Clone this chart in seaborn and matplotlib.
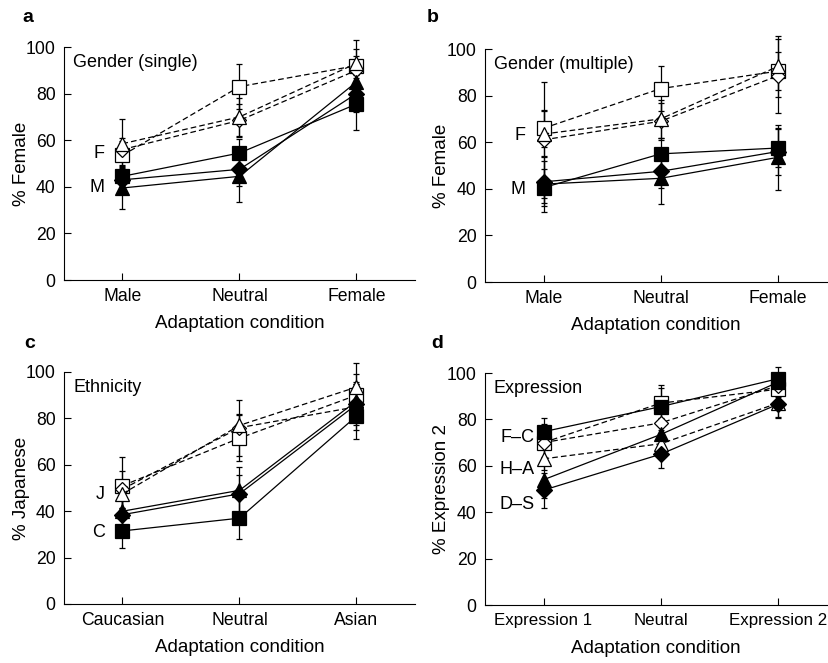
import numpy as np
import pandas as pd
import matplotlib
matplotlib.use("Agg")
import matplotlib.pyplot as plt
import seaborn as sns

# ---------------- data ----------------
conds_a = ["Male", "Neutral", "Female"]
conds_b = ["Male", "Neutral", "Female"]
conds_c = ["Caucasian", "Neutral", "Asian"]
conds_d = ["Expression 1", "Neutral", "Expression 2"]

# panel a: Gender (single)
a_fsq = [44.5, 54.5, 75.5]; a_fsq_e = [5, 6, 11]
a_fdi = [43.0, 47.5, 80.0]; a_fdi_e = [6, 7, 8]
a_ftr = [39.5, 44.5, 85.0]; a_ftr_e = [9, 11, 8]
a_osq = [53.5, 83.0, 92.0]; a_osq_e = [6, 9.5, 7]
a_odi = [56.0, 68.5, 90.0]; a_odi_e = [5, 7, 6]
a_otr = [58.5, 70.0, 93.0]; a_otr_e = [10.5, 8, 10]

# panel b: Gender (multiple)
b_fsq = [40.5, 55.0, 57.5]; b_fsq_e = [8, 7, 8]
b_fdi = [43.0, 47.5, 56.0]; b_fdi_e = [9, 7, 10]
b_ftr = [42.0, 44.5, 53.5]; b_ftr_e = [12, 11, 14]
b_osq = [66.0, 83.0, 90.5]; b_osq_e = [8, 9.5, 8]
b_odi = [61.0, 69.0, 88.5]; b_odi_e = [25, 8, 16]
b_otr = [63.5, 70.0, 92.5]; b_otr_e = [10, 8, 13]

# panel c: Ethnicity
c_fsq = [31.5, 37.0, 81.0]; c_fsq_e = [7.5, 9, 10]
c_fdi = [38.5, 47.5, 86.0]; c_fdi_e = [7, 8, 9]
c_ftr = [40.0, 49.0, 87.5]; c_ftr_e = [6, 10, 8]
c_osq = [51.0, 71.5, 90.0]; c_osq_e = [12.5, 10, 9]
c_odi = [49.5, 76.0, 85.0]; c_odi_e = [8, 12, 10]
c_otr = [47.5, 77.0, 93.5]; c_otr_e = [6, 5, 10.5]

# panel d: Expression
d_fsq = [74.7, 85.5, 97.5]; d_fsq_e = [6, 8, 5]
d_fdi = [49.5, 65.0, 86.5]; d_fdi_e = [7.5, 6, 6]
d_ftr = [54.0, 73.5, 96.0]; d_ftr_e = [8, 7, 4]
d_osq = [70.0, 87.0, 93.0]; d_osq_e = [8, 8, 6]
d_odi = [70.0, 78.5, 94.5]; d_odi_e = [6, 7, 5]
d_otr = [63.0, 69.5, 87.0]; d_otr_e = [5, 6, 6]

series_names = ["fsq", "fdi", "ftr", "osq", "odi", "otr"]
panel_data = {
    "a": [a_fsq, a_fdi, a_ftr, a_osq, a_odi, a_otr],
    "b": [b_fsq, b_fdi, b_ftr, b_osq, b_odi, b_otr],
    "c": [c_fsq, c_fdi, c_ftr, c_osq, c_odi, c_otr],
    "d": [d_fsq, d_fdi, d_ftr, d_osq, d_odi, d_otr],
}
panel_err = {
    "a": [a_fsq_e, a_fdi_e, a_ftr_e, a_osq_e, a_odi_e, a_otr_e],
    "b": [b_fsq_e, b_fdi_e, b_ftr_e, b_osq_e, b_odi_e, b_otr_e],
    "c": [c_fsq_e, c_fdi_e, c_ftr_e, c_osq_e, c_odi_e, c_otr_e],
    "d": [d_fsq_e, d_fdi_e, d_ftr_e, d_osq_e, d_odi_e, d_otr_e],
}
panel_conds = {"a": conds_a, "b": conds_b, "c": conds_c, "d": conds_d}
panel_titles = {"a": "Gender (single)", "b": "Gender (multiple)",
                "c": "Ethnicity", "d": "Expression"}
panel_ylabels = {"a": "% Female", "b": "% Female",
                 "c": "% Japanese", "d": "% Expression 2"}
# in-panel labels: (text, y value)
panel_marks = {
    "a": [("F", 54.5), ("M", 39.5)],
    "b": [("F", 63.0), ("M", 39.5)],
    "c": [("J", 47.0), ("C", 31.0)],
    "d": [("F\u2013C", 72.0), ("H\u2013A", 58.6), ("D\u2013S", 43.5)],
}
yticks = [0, 20, 40, 60, 80, 100]

rows = []
for p in "abcd":
    for s, vals, errs in zip(series_names, panel_data[p], panel_err[p]):
        for i, (v, e) in enumerate(zip(vals, errs)):
            rows.append(dict(panel=p, series=s, x=i, value=v, err=e))
df = pd.DataFrame(rows)

# ---------------- style ----------------
sns.set_theme(style="ticks")
plt.rcParams["font.family"] = ["Liberation Sans", "DejaVu Sans"]
plt.rcParams["axes.linewidth"] = 0.8

W, H = 829, 663
fig = plt.figure(figsize=(W / 100, H / 100), dpi=100)

# axes boxes in pixels: left, right, top(100), bottom(0)
boxes = {
    "a": (64, 415, 47, 280),
    "b": (485, 827, 49, 282),
    "c": (64, 415, 372, 604),
    "d": (485, 827, 373, 605),
}
xlims = {"a": (-0.5, 2.5), "b": (-0.5, 2.42), "c": (-0.5, 2.5), "d": (-0.5, 2.42)}
letter_pos = {"a": (28, 18), "b": (433, 18), "c": (30, 343), "d": (437, 343)}

style = {
    "fsq": dict(marker="s", ms=9.5, mfc="black", ls="-"),
    "fdi": dict(marker="D", ms=8.5, mfc="black", ls="-"),
    "ftr": dict(marker="^", ms=10.5, mfc="black", ls="-"),
    "osq": dict(marker="s", ms=9.5, mfc="white", ls=(0, (4.5, 2.5))),
    "odi": dict(marker="D", ms=7.5, mfc="white", ls=(0, (4.5, 2.5))),
    "otr": dict(marker="^", ms=10.5, mfc="white", ls=(0, (4.5, 2.5))),
}
draw_order = ["osq", "odi", "otr", "fsq", "fdi", "ftr"]

FS = 12.7

for p in "abcd":
    l, r, t, b = boxes[p]
    ax = fig.add_axes([l / W, 1 - b / H, (r - l) / W, (b - t) / H])
    sub = df[df.panel == p]
    for s in draw_order:
        d = sub[sub.series == s]
        ax.errorbar(d["x"], d["value"], yerr=d["err"], fmt="none",
                    ecolor="black", elinewidth=0.9, capsize=2.5,
                    capthick=0.9, clip_on=False, zorder=2)
    for k, s in enumerate(draw_order):
        d = sub[sub.series == s]
        st = style[s]
        sns.lineplot(data=d, x="x", y="value", ax=ax, color="black",
                     linewidth=0.9, linestyle=st["ls"], marker=st["marker"],
                     markersize=st["ms"], markerfacecolor=st["mfc"],
                     markeredgecolor="black", markeredgewidth=0.9,
                     clip_on=False, zorder=3 + k, legend=False)
    ax.set_xlim(*xlims[p])
    ax.set_ylim(0, 100)
    ax.set_xticks(range(len(panel_conds[p])))
    ax.set_xticklabels(panel_conds[p], fontsize=12.2 if p == "d" else FS)
    ax.set_yticks(yticks)
    ax.set_yticklabels([str(v) for v in yticks], fontsize=FS)
    ax.tick_params(direction="in", length=5, width=0.8, colors="black",
                   pad=6)
    sns.despine(ax=ax)
    ax.spines["left"].set_color("black")
    ax.spines["bottom"].set_color("black")
    ax.set_xlabel("Adaptation condition", fontsize=13.5, color="black")
    ax.set_ylabel(panel_ylabels[p], fontsize=13.5, color="black")
    ax.xaxis.set_label_coords(0.5, -0.15)
    ax.yaxis.set_label_coords((30 - l) / (r - l) if p in "ac" else (450 - l) / (r - l), 0.5)
    ax.text(0.026, 0.935, panel_titles[p], transform=ax.transAxes,
            fontsize=13, ha="left", va="center", color="black")
    for txt, yv in panel_marks[p]:
        xo = -0.08 if p == "d" else -0.15
        ax.text(xo, yv, txt, fontsize=13, ha="right", va="center",
                color="black")
    lx, ly = letter_pos[p]
    fig.text(lx / W, 1 - ly / H, p, fontsize=14, fontweight="bold",
             ha="center", va="center", color="black")

fig.savefig("out.png", dpi=100)
